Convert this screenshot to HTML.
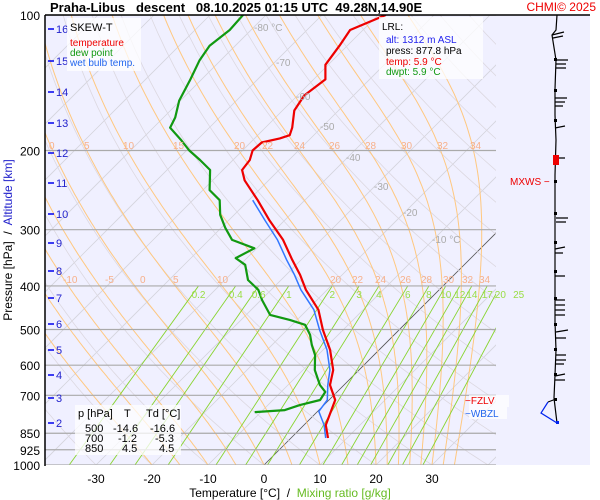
<!DOCTYPE html>
<html><head><meta charset="utf-8"><style>
body{margin:0;background:#fff;overflow:hidden;}
svg{display:block;font-family:"Liberation Sans",sans-serif;}
text{white-space:pre;}
</style></head><body>
<svg id="c" width="600" height="500">
<defs><clipPath id="clip"><rect x="45" y="15" width="451" height="450"/></clipPath></defs>
<rect x="45" y="15" width="545" height="450" fill="#f0f0ff"/>
<g id="grid" clip-path="url(#clip)"></g>
<g id="series" clip-path="url(#clip)"></g>
<g id="overlay"></g>
<g>
<line x1="45" y1="15" x2="590" y2="15" stroke="#000" stroke-width="1.5"/>
<line x1="45" y1="15" x2="45" y2="466" stroke="#000" stroke-width="1.5"/>
</g>
<g stroke="#000" stroke-width="1.2" fill="none">
<polyline points="557,15 556,30 552,35 556,60 555,89 555,115 556,140 555,175 555,215 555,243 555,270 555,297 555,322 556,350 555,375 554,398 557,423"/>
<polyline points="557,423 541,413 548,402" stroke="#0022ee"/>
<path d="M552,35 l12,-3 M553,38 l10,-2 M556,60 l12,0 M556,64 l10,0 M556,68 l10,0 M555,98 l12,0 M555,102 l10,0 M555,106 l8,0 M555,128 l10,-2 M555,158 l10,0 M556,218 l12,0 M556,222 l10,0 M555,249 l10,-2 M555,253 l8,0 M555,276 l10,0 M555,300 l10,0 M555,305 l10,0 M555,310 l10,0 M555,315 l10,0 M556,332 l12,-2 M556,338 l10,0 M556,355 l10,0 M556,360 l10,0 M556,364 l8,0 M555,376 l10,-2 M555,380 l10,0 M548,402 l8,-3"/>
</g>
<g fill="#000">
<rect x="554" y="58" width="3" height="3"/><rect x="554" y="89" width="3" height="3"/><rect x="554" y="119" width="3" height="3"/><rect x="554" y="180" width="3" height="3"/><rect x="554" y="212" width="3" height="3"/><rect x="554" y="241" width="3" height="3"/><rect x="554" y="270" width="3" height="3"/><rect x="554" y="297" width="3" height="3"/><rect x="554" y="323" width="3" height="3"/><rect x="554" y="348" width="3" height="3"/><rect x="554" y="373" width="3" height="3"/><rect x="554" y="398" width="3" height="3"/>
<rect x="556" y="421" width="3" height="3" fill="#0022ee"/>
</g>
<rect x="553" y="155" width="6" height="10" fill="#e00"/>
<text x="510" y="185" font-size="10" fill="#e00">MXWS −</text>
<rect x="469" y="395" width="40" height="12" fill="#fff" opacity="0.7"/>
<text x="465" y="404" font-size="10" fill="#e00">−FZLV</text>
<rect x="469" y="407" width="38" height="12" fill="#fff" opacity="0.7"/>
<text x="465" y="417" font-size="10" fill="#2266ee">−WBZL</text>
<text x="50" y="12" font-size="13" font-weight="bold">Praha-Libus   descent   08.10.2025 01:15 UTC  49.28N,14.90E</text>
<text x="596" y="11" font-size="12" fill="#e00" text-anchor="end">CHMI© 2025</text>
<g>
<rect x="67" y="18" width="74" height="53" fill="#fff" opacity="0.75"/>
<text x="70" y="31" font-size="11">SKEW-T</text>
<text x="70" y="46" font-size="10" fill="#e00">temperature</text>
<text x="70" y="56" font-size="10" fill="#119911">dew point</text>
<text x="70" y="66" font-size="10" fill="#2266ee">wet bulb temp.</text>
</g>
<g font-size="10">
<rect x="379" y="17" width="104" height="62" fill="#fff" opacity="0.75"/>
<text x="382" y="30">LRL:</text>
<text x="386" y="43" fill="#2222ee">alt: 1312 m ASL</text>
<text x="386" y="54">press: 877.8 hPa</text>
<text x="386" y="65" fill="#e00">temp: 5.9 °C</text>
<text x="386" y="75" fill="#119911">dwpt: 5.9 °C</text>
</g>
<g font-size="11">
<rect x="75" y="405" width="106" height="50" fill="#fff" opacity="0.75"/>
<text x="78" y="417">p [hPa]</text><text x="124" y="417">T</text><text x="146" y="417">Td [°C]</text>
<text x="85" y="432">500</text><text x="113" y="432">-14.6</text><text x="150" y="432">-16.6</text>
<text x="85" y="442">700</text><text x="118" y="442">-1.2</text><text x="155" y="442">-5.3</text>
<text x="85" y="452">850</text><text x="122" y="452">4.5</text><text x="159" y="452">4.5</text>
</g>
<g font-size="10" fill="#aaa">
<text x="254" y="31">-80 °C</text><text x="276" y="66">-70</text><text x="296" y="100">-60</text><text x="320" y="130">-50</text><text x="346" y="161">-40</text><text x="374" y="190">-30</text><text x="403" y="216">-20</text><text x="432" y="243">-10 °C</text>
</g>
<g font-size="10" fill="#f7b08a">
<text x="49" y="149">0</text><text x="84" y="149">5</text><text x="123" y="149">10</text><text x="173" y="149">15</text><text x="234" y="149">20</text><text x="262" y="149">22</text><text x="294" y="149">24</text><text x="329" y="149">26</text><text x="365" y="149">28</text><text x="401" y="149">30</text><text x="437" y="149">32</text><text x="470" y="149">34</text>
<text x="63" y="283">-10</text><text x="105" y="283">-5</text><text x="140" y="283">0</text><text x="173" y="283">5</text><text x="217" y="283">10</text>
<text x="330" y="283">20</text><text x="352" y="283">22</text><text x="375" y="283">24</text><text x="400" y="283">26</text><text x="421" y="283">28</text><text x="443" y="283">30</text><text x="462" y="283">32</text><text x="479" y="283">34</text>
</g>
<text x="12" y="240" font-size="12" transform="rotate(-90 12 240)" text-anchor="middle">Pressure [hPa]  /  <tspan fill="#2222cc">Altitude [km]</tspan></text>
<text x="290" y="497" font-size="12" text-anchor="middle">Temperature [°C]  /  <tspan fill="#66bb22">Mixing ratio [g/kg]</tspan></text>
</svg>
<script>
// ---- data ----
var tempP = [871,815,717,664,615,555,501,452,408,378,350,316,286,258,233,221,210,200,192,188,185,178,163,151,139,129,117,108,100];
var tempT = [6.6,3.9,1.1,-2.5,-4.6,-8.75,-13.6,-18,-23.8,-27.5,-31.6,-36.8,-42.7,-48.4,-54.3,-56.6,-57,-58.2,-58,-55.5,-54.3,-55.2,-57.9,-58.8,-57.9,-60.5,-61.4,-62.3,-58.6];
var dewP = [763,755,736,717,688,664,615,570,541,514,488,476,464,430,408,388,359,347,330,316,297,278,258,245,221,210,200,190,178,169,155,139,126,117,108,100];
var dewT = [-11.1,-6.1,-4.3,-1.6,-2.1,-4.3,-7.9,-10.5,-12.9,-15,-17.7,-21.3,-25.7,-29.8,-32.3,-35.9,-39.1,-42,-40.4,-45.9,-49.3,-52.5,-55.2,-58.8,-62.3,-65.9,-69.5,-72.7,-77,-77.9,-80.2,-82,-83.8,-84.6,-83.8,-84.1];
var wetP = [871,815,760,717,664,615,555,501,452,408,378,350,316,286,258];
var wetT = [6.2,3.6,0.2,-0.3,-2.9,-5.2,-9.3,-14.2,-18.8,-24.7,-28.5,-32.6,-37.8,-43.5,-49.3];
var isobars = [100,200,300,400,500,600,700,850,925,1000];
var xTicks = [-30,-20,-10,0,10,20,30];
var kmTicks = [2,3,4,5,6,7,8,9,10,11,12,13,14,15,16];
var kmY = [423,398,375,350,324,298,271,243,214,183,153,123,92,61,29];
var mixRatios = [0.2,0.4,0.6,1,2,3,4,6,8,10,12,14,17,20,25];
var moistThetaW = [-20,-15,-10,-5,0,5,10,15,20,22,24,26,28,30,32,34];

// ---- axes ----
var NS="http://www.w3.org/2000/svg";
function yP(p){return 15+450*Math.log10(p/100);}
function xT(t,p){var y=yP(p);return 264+5.6*t+(465-y);}
function el(tag,attrs,parent,text){var e=document.createElementNS(NS,tag);for(var k in attrs)e.setAttribute(k,attrs[k]);if(text!==undefined)e.textContent=text;parent.appendChild(e);return e;}
var grid=document.getElementById('grid'),series=document.getElementById('series'),ov=document.getElementById('overlay');

for(var t=-120;t<=50;t+=10){
  var l=el('line',{x1:xT(t,1000),y1:yP(1000),x2:xT(t,100),y2:yP(100),stroke:t==0?'#555':'#d4d4dc','stroke-width':0.8},grid);
  
  
}
for(var th=-30;th<=200;th+=10){
  var d='';for(var p=1000;p>=100;p-=10){var T=(th+273.15)*Math.pow(p/1000,0.286)-273.15;d+=(d?'L':'M')+xT(T,p).toFixed(1)+','+yP(p).toFixed(1);}
  var a=el('path',{d:d,fill:'none',stroke:'#dcd8e0','stroke-width':0.8},grid);
  
  
}
function es(T){return 6.112*Math.exp(17.67*T/(T+243.5));}
function ws(T,p){var e=es(T);return 0.622*e/(p-e);}
function gam(T,p){var Tk=T+273.15,w=ws(T,p),L=2.5e6,Rd=287,cp=1004,eps=0.622;
  return (Rd*Tk+L*w)/(cp+L*L*w*eps/(Rd*Tk*Tk))/p;}
moistThetaW.forEach(function(tw){
  var T=tw,d='';for(var p=1000;p>=100;p-=5){d+=(d?'L':'M')+xT(T,p).toFixed(1)+','+yP(p).toFixed(1);T-=gam(T,p)*5;}
  var m=el('path',{d:d,fill:'none',stroke:'#ffc880','stroke-width':1},grid);
  
  
});
mixRatios.forEach(function(w){
  function td(p){var e=w*p/(622+w);var g=Math.log(e/6.112);return 243.5*g/(17.67-g);}
  var ml=el('line',{x1:xT(td(1000),1000),y1:yP(1000),x2:xT(td(400),400),y2:yP(400),stroke:'#88d430','stroke-width':0.9},grid);
  
  
  var tl=el('text',{x:xT(td(400),400),y:298,'font-size':10,fill:'#99dd44','text-anchor':'middle'},ov,String(w));
  
  
});
isobars.forEach(function(p){
  var il=el('line',{x1:45,y1:yP(p),x2:496,y2:yP(p),stroke:'#aaa','stroke-width':1.2},grid);
  
  
  var lab=el('text',{x:40,y:yP(p)+5,'font-size':12,'text-anchor':'end',fill:'#000'},ov,String(p));
  
  
});
function drawLine(P,T,color,w,name){
  var d='';for(var i=0;i<P.length;i++)d+=(i?'L':'M')+xT(T[i],P[i]).toFixed(1)+','+yP(P[i]).toFixed(1);
  var s=el('path',{d:d,fill:'none',stroke:color,'stroke-width':w,'stroke-linejoin':'round'},series);
  
  
}
drawLine(wetP,wetT,'#3377ff',1.5,'wet-bulb-line');
drawLine(dewP,dewT,'#119911',2.2,'dew-point-line');
drawLine(tempP,tempT,'#ee0000',2.2,'temperature-line');
xTicks.forEach(function(t){
  var xl=el('text',{x:xT(t,1000),y:483,'font-size':12,'text-anchor':'middle'},ov,String(t));
  
  
});
kmTicks.forEach(function(k,i){
  var kl=el('line',{x1:48,y1:kmY[i],x2:54,y2:kmY[i],stroke:'#0000ee','stroke-width':1.5},ov);
  
  
  var kt=el('text',{x:56,y:kmY[i]+4,'font-size':11,fill:'#2222cc'},ov,String(k));
  
  
});
</script>
</body></html>
